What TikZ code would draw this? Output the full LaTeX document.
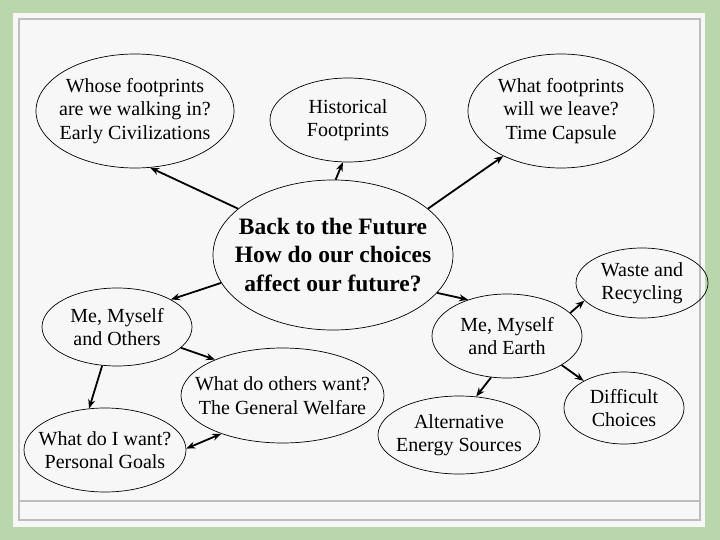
\documentclass[tikz,border=0pt]{standalone}
\usepackage{fontspec}
\setmainfont{Liberation Serif}
\usepackage{tikz}
\usetikzlibrary{shapes.geometric, arrows.meta}

\definecolor{framegreen}{RGB}{185,214,172}
\definecolor{paper}{RGB}{247,247,247}
\definecolor{rulegray}{RGB}{190,190,190}

\begin{document}
\begin{tikzpicture}[
    x=1pt, y=-1pt,
    >={Stealth[length=9pt,width=7pt]},
    bubble/.style={draw, ellipse, line width=0.7pt, inner xsep=-20pt, inner ysep=-12pt,
        align=center, font=\fontsize{20}{23.5}\selectfont},
    link/.style={->, line width=1.8pt}
]

% Slide frame
\fill[framegreen] (0,0) rectangle (720,540);
\fill[paper] (13,13) rectangle (705,527);
\draw[rulegray, line width=1.5pt] (19,19) rectangle (700,520);
\draw[rulegray, line width=1.5pt] (19,501) -- (700,501);

% Centre topic
\node[bubble, minimum width=240pt, minimum height=150pt,
      font=\bfseries\fontsize{23.5}{28.5}\selectfont] (future) at (333,255)
      {Back to the Future\\How do our choices\\affect our future?};

% Footprints
\node[bubble, minimum width=198pt, minimum height=114pt] (whose) at (135,111)
      {Whose footprints\\are we walking in?\\Early Civilizations};
\node[bubble, minimum width=156pt, minimum height=84pt] (hist) at (348,120)
      {Historical\\Footprints};
\node[bubble, minimum width=186pt, minimum height=114pt] (capsule) at (561,111)
      {What footprints\\will we leave?\\Time Capsule};

% Others branch
\node[bubble, minimum width=150pt, minimum height=78pt] (others) at (117,327)
      {Me, Myself\\and Others};
\node[bubble, minimum width=203pt, minimum height=95pt] (welfare) at (282.5,395.5)
      {What do others want?\\The General Welfare};
\node[bubble, minimum width=162pt, minimum height=84pt] (goals) at (105,450)
      {What do I want?\\Personal Goals};

% Earth branch
\node[bubble, minimum width=150pt, minimum height=84pt] (earth) at (507,336)
      {Me, Myself\\and Earth};
\node[bubble, minimum width=132pt, minimum height=70pt] (waste) at (642,283)
      {Waste and\\Recycling};
\node[bubble, minimum width=120pt, minimum height=72pt] (hard) at (624,408)
      {Difficult\\Choices};
\node[bubble, minimum width=162pt, minimum height=78pt] (energy) at (459,435)
      {Alternative\\Energy Sources};

% Links
\draw[link] (future.154) -- (whose.-75);
\draw[link] (future.88) -- (hist.-97);
\draw[link] (future.26) -- (capsule.-142);
\draw[link] (future.194) -- (others.27);
\draw[link] (future.-20) -- (earth.137);
\draw[link] (others.-18) -- (welfare.152);
\draw[link] (others.-111) -- (goals.111);
\draw[link, <->] (goals.1) -- (welfare.212);
\draw[link] (earth.-111) -- (energy.66);
\draw[link] (earth.-28) -- (hard.146);
\draw[link] (earth.20) -- (waste.197);

\end{tikzpicture}
\end{document}
